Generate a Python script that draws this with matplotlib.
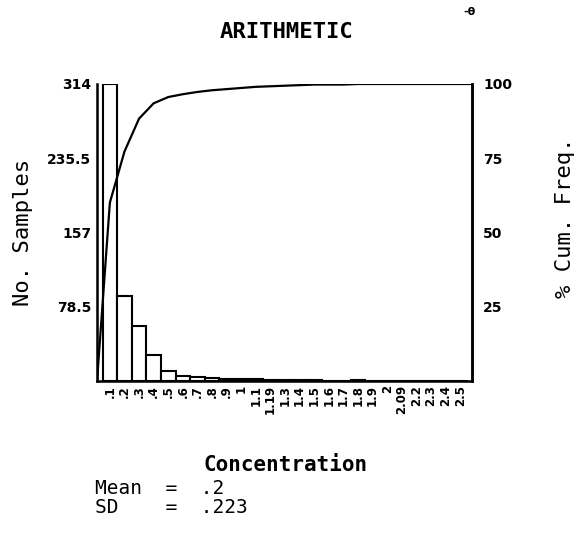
import numpy as np
import matplotlib
matplotlib.use("Agg")
import matplotlib.pyplot as plt

# histogram of concentrations, 25 bins of 0.1
bin_labels = [".1", ".2", ".3", ".4", ".5", ".6", ".7", ".8", ".9", "1",
              "1.1", "1.19", "1.3", "1.4", "1.5", "1.6", "1.7", "1.8", "1.9", "2",
              "2.09", "2.2", "2.3", "2.4", "2.5"]
counts = [314, 90, 58, 27, 11, 5, 4, 3, 2, 2,
          2, 1, 1, 1, 1, 0, 0, 1, 0, 0,
          0, 0, 0, 0, 0]
left_ticks = [78.5, 157, 235.5, 314]
left_tick_labels = ["78.5", "157", "235.5", "314"]
right_ticks = [25, 50, 75, 100]
mean_val = ".2"
sd_val = ".223"

MONO = "DejaVu Sans Mono"

counts = np.array(counts, dtype=float)
n = len(counts)
x = np.arange(n)
x_lo, x_hi = -0.88, n - 0.2

# cumulative % at bin centres, from zero at the left frame to the right frame
pct = np.cumsum(counts) / counts.sum() * 100
cum_x = np.concatenate([[x_lo], x, [x_hi]])
cum_pct = np.concatenate([[0.0], pct, [pct[-1]]])

fig = plt.figure(figsize=(5.83, 5.35), dpi=100)
ax = fig.add_axes([0.1664, 0.288, 0.643, 0.555])

ax.bar(x, counts, width=1.0, facecolor="white", edgecolor="black", linewidth=1.5)
ax.set_xlim(x_lo, x_hi)
ax.set_ylim(0, 314)
ax.set_yticks(left_ticks)
ax.set_yticklabels(left_tick_labels, fontsize=10, fontweight="bold")
ax.set_xticks(x)
ax.set_xticklabels(bin_labels, rotation=90, fontsize=8.5, fontweight="bold",
                   va="top", ha="center")
ax.tick_params(axis="both", length=0, pad=4)
ax.tick_params(axis="x", pad=3)
for side in ("left", "bottom", "right"):
    ax.spines[side].set_linewidth(1.8)
ax.spines["top"].set_visible(False)
ax.set_ylabel("No. Samples", fontsize=16, family=MONO, labelpad=10)

ax2 = ax.twinx()
ax2.plot(cum_x, cum_pct, color="black", lw=1.6)
ax2.set_ylim(0, 100)
ax2.set_yticks(right_ticks)
ax2.set_yticklabels([str(t) for t in right_ticks], fontsize=10, fontweight="bold")
ax2.tick_params(axis="y", length=0, pad=8)
ax2.spines["top"].set_visible(False)
ax2.spines["right"].set_linewidth(1.8)
ax2.set_ylabel("% Cum. Freq.", fontsize=16, family=MONO)
ax2.yaxis.set_label_coords(1.222, 0.55)

fig.text(0.492, 0.94, "ARITHMETIC", ha="center", va="center",
         fontsize=16, family=MONO, fontweight="bold")
fig.text(0.805, 0.978, "-θ", ha="center", va="center", fontsize=8, fontweight="bold")
fig.text(0.49, 0.13, "Concentration", ha="center", va="center",
         fontsize=15, family=MONO, fontweight="bold")
fig.text(0.163, 0.069, f"Mean  =  {mean_val}\nSD    =  {sd_val}", ha="left", va="center",
         fontsize=14, family=MONO, linespacing=0.95)

fig.savefig("out.png", dpi=100)
